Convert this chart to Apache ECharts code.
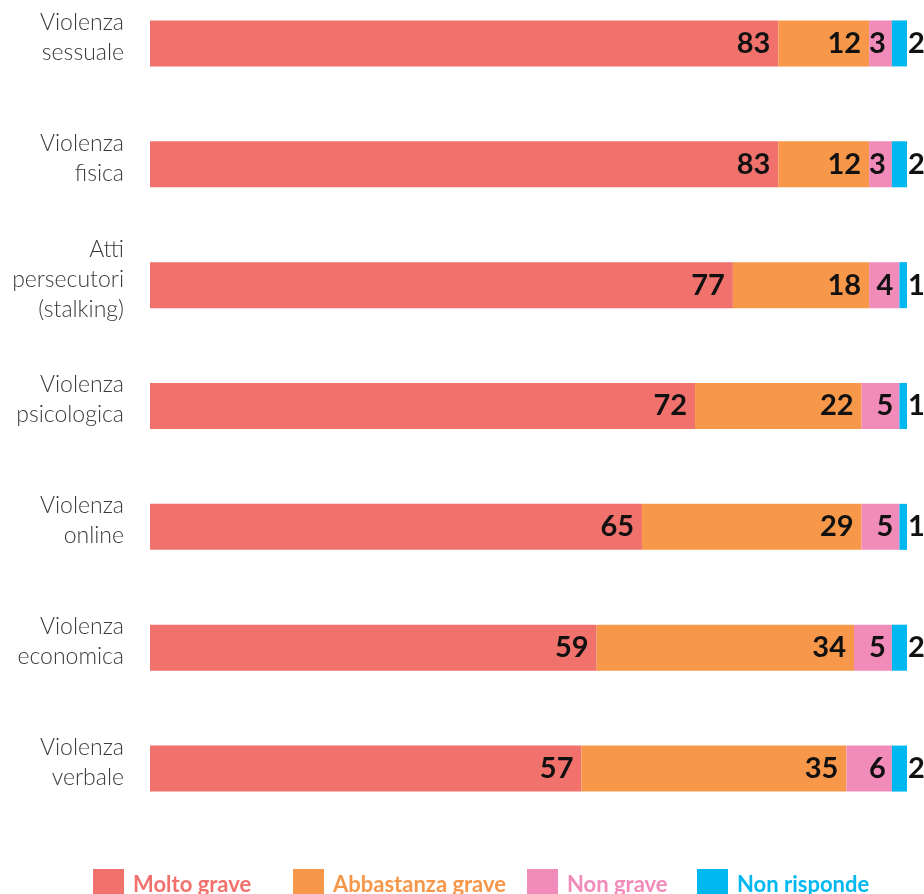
<!DOCTYPE html>
<html>
<head>
<meta charset="utf-8">
<script src="https://cdn.jsdelivr.net/npm/echarts@6/dist/echarts.min.js"></script>
<style>
  html, body { margin: 0; padding: 0; background: #fff; overflow: hidden; }
  /* the first band starts slightly above the page, so the chart box is shifted up */
  #chart { width: 924px; height: 911px; margin-top: -17px; }
</style>
</head>
<body>
<div id="chart"></div>
<script>
// categorie (dall'alto verso il basso)
const categories = [
  "Violenza\nsessuale",
  "Violenza\nfisica",
  "Atti\npersecutori\n(stalking)",
  "Violenza\npsicologica",
  "Violenza\nonline",
  "Violenza\neconomica",
  "Violenza\nverbale"
];
const seriesNames = ["Molto grave", "Abbastanza grave", "Non grave", "Non risponde"];
const moltoGrave = [83, 83, 77, 72, 65, 59, 57];
const abbastanzaGrave = [12, 12, 18, 22, 29, 34, 35];
const nonGrave = [3, 3, 4, 5, 5, 5, 6];
const nonRisponde = [2, 2, 1, 1, 1, 2, 2];

const colors = ["#f1716d", "#f7974a", "#f18bb9", "#00b8f0"];
const allData = [moltoGrave, abbastanzaGrave, nonGrave, nonRisponde];

const chart = echarts.init(document.getElementById("chart"));

const labelFont = {
  fontFamily: "Lato",
  fontWeight: "bold",
  fontSize: 29,
  color: "#111"
};
const labelDist = [8, 8, 6, 1];

const series = seriesNames.map(function (name, i) {
  return {
    name: name,
    type: "bar",
    stack: "tot",
    barWidth: 46,
    itemStyle: { color: colors[i] },
    label: Object.assign({
      show: true,
      position: i === 3 ? "right" : "insideRight",
      distance: labelDist[i]
    }, labelFont),
    emphasis: { disabled: true },
    data: allData[i]
  };
});

const legendLeft = [93, 293, 527, 697];
const legends = seriesNames.map(function (name, i) {
  return {
    left: legendLeft[i],
    top: 886,
    padding: 0,
    itemWidth: 31,
    itemHeight: 31,
    itemGap: 0,
    icon: "rect",
    selectedMode: false,
    textStyle: {
      fontFamily: "Lato",
      fontWeight: "bold",
      fontSize: 22,
      padding: [0, 0, 0, 4]
    },
    data: [{ name: name, textStyle: { color: colors[i] } }]
  };
});

const option = {
  animation: false,
  textStyle: { fontFamily: "Lato" },
  legend: legends,
  grid: {
    left: 150,
    right: 17,
    top: 0,
    bottom: 65,
    containLabel: false
  },
  xAxis: {
    type: "value",
    min: 0,
    max: 100,
    show: false
  },
  yAxis: {
    type: "category",
    inverse: true,
    data: categories,
    axisLine: { show: false },
    axisTick: { show: false },
    axisLabel: {
      margin: 26,
      fontFamily: "Lato",
      fontWeight: 300,
      fontSize: 23,
      lineHeight: 30,
      color: "#3a3a3a",
      align: "right",
      // small empty line below the text lifts the label a little above the bar centre
      formatter: function (v) {
        return v.split("\n").map(function (l) { return "{t|" + l + "}"; }).join("\n") + "\n{s| }";
      },
      rich: {
        t: {
          fontFamily: "Lato",
          fontWeight: 300,
          fontSize: 23,
          lineHeight: 30,
          color: "#3a3a3a"
        },
        s: { fontSize: 1, lineHeight: 12 }
      }
    }
  },
  series: series
};

chart.setOption(option);
</script>
</body>
</html>
